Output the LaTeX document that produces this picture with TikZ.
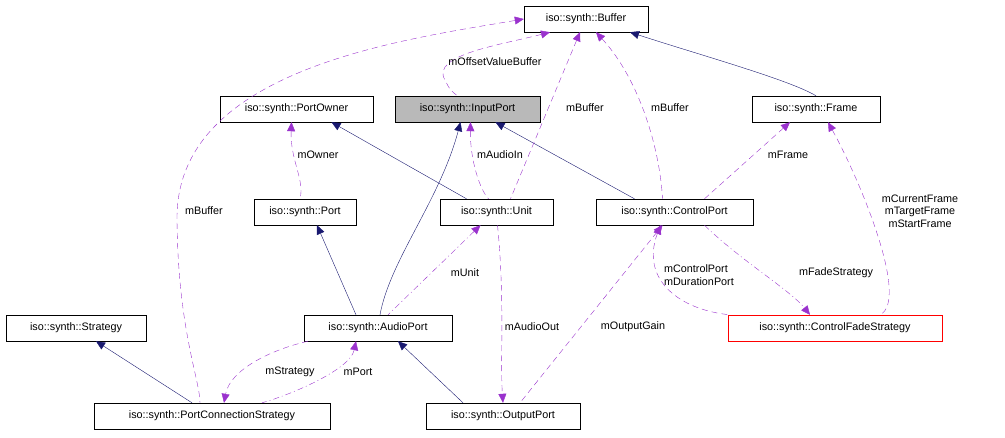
\documentclass[tikz,border=0pt]{standalone}
\usepackage{fontspec}
\setmainfont{Liberation Sans}
\usetikzlibrary{arrows.meta}
\definecolor{inh}{HTML}{191970}
\definecolor{use}{HTML}{9A32CD}
\begin{document}
\begin{tikzpicture}[x=1pt,y=-1pt,font=\fontsize{10.8}{12.5}\selectfont,
 box/.style={draw=black,fill=white,inner sep=0pt,minimum height=26pt,anchor=center},
 inh/.style={draw=inh,{Triangle[length=9pt,width=8pt,fill=inh]}-},
 use/.style={draw=use,dashed,dash pattern=on 6pt off 4pt,{Triangle[length=9pt,width=8pt,fill=use]}-},
 lab/.style={inner sep=1pt,fill=none}]
\useasboundingbox (0,0) rectangle (1005,437);
\node[box,minimum width=124pt] (buf) at (586,19) {iso::synth::Buffer};
\node[box,minimum width=145pt,fill=gray!55] (inp) at (467.5,109) {iso::synth::InputPort};
\node[box,minimum width=153pt] (own) at (296.5,109) {iso::synth::PortOwner};
\node[box,minimum width=128pt] (frm) at (816,109) {iso::synth::Frame};
\node[box,minimum width=102pt] (port) at (305,212) {iso::synth::Port};
\node[box,minimum width=113pt] (unit) at (496.5,212) {iso::synth::Unit};
\node[box,minimum width=157pt] (cp) at (674.5,212) {iso::synth::ControlPort};
\node[box,minimum width=140pt] (str) at (76,328) {iso::synth::Strategy};
\node[box,minimum width=148pt] (ap) at (378,328) {iso::synth::AudioPort};
\node[box,minimum width=214pt,draw=red] (cfs) at (835,328) {iso::synth::ControlFadeStrategy};
\node[box,minimum width=236pt] (pcs) at (212,416) {iso::synth::PortConnectionStrategy};
\node[box,minimum width=154pt] (op) at (503,416) {iso::synth::OutputPort};
% inheritance
\draw[inh] ([xshift=44pt]buf.south) .. controls (700,55) and (790,80) .. (frm.north);
\draw[inh] ([xshift=35pt]own.south) -- ([xshift=-30pt]unit.north);
\draw[inh] ([xshift=28pt]inp.south) -- ([xshift=-40pt]cp.north);
\draw[inh] ([xshift=-7pt]inp.south) .. controls (440,200) and (390,260) .. ([xshift=2pt]ap.north);
\draw[inh] ([xshift=12pt]port.south) -- ([xshift=-22pt]ap.north);
\draw[inh] ([xshift=20pt]str.south) -- ([xshift=-20pt]pcs.north);
\draw[inh] ([xshift=20pt]ap.south) -- ([xshift=-40pt]op.north);
% usage
\draw[use] ([xshift=-36pt]buf.south) .. controls (500,45) and (430,55) .. (445,80) .. controls (450,90) .. ([xshift=-10pt]inp.north);
\node[lab] at (495,62) {mOffsetValueBuffer};
\draw[use] (buf.west) .. controls (400,40) and (175,70) .. (177,220) .. controls (178,330) and (200,380) .. ([xshift=-12pt]pcs.north);
\node[lab] at (204,211) {mBuffer};
\draw[use] ([xshift=-5pt]own.south) .. controls (290,160) and (305,180) .. ([xshift=-5pt]port.north);
\node[lab] at (318,155) {mOwner};
\draw[use] ([xshift=-6pt]buf.south) -- ([xshift=14pt]unit.north);
\node[lab] at (585,108) {mBuffer};
\draw[use] ([xshift=10pt]buf.south) .. controls (640,80) and (660,150) .. ([xshift=-12pt]cp.north);
\node[lab] at (670,108) {mBuffer};
\draw[use] ([xshift=3pt]inp.south) .. controls (470,160) and (480,190) .. ([xshift=-8pt]unit.north);
\node[lab] at (500,155) {mAudioIn};
\draw[use] ([xshift=-26pt]frm.south) -- ([xshift=30pt]cp.north);
\node[lab] at (788,155) {mFrame};
\draw[use] ([xshift=12pt]frm.south) .. controls (860,180) and (910,300) .. ([xshift=45pt]cfs.north);
\node[lab,align=center] at (920,211) {mCurrentFrame\\mTargetFrame\\mStartFrame};
\draw[use] ([xshift=-14pt]cp.south) .. controls (640,280) and (680,310) .. ([xshift=-105pt]cfs.north);
\node[lab,align=left] at (699,275) {mControlPort\\mDurationPort};
\draw[use,dash pattern=on 6pt off 3pt on 1pt off 3pt,-{Triangle[length=9pt,width=8pt,fill=use]}] ([xshift=30pt]cp.south) .. controls (740,260) and (790,290) .. ([xshift=-25pt]cfs.north);
\node[lab] at (836,273) {mFadeStrategy};
\draw[use,dash pattern=on 6pt off 3pt on 1pt off 3pt] ([xshift=-16pt]unit.south) -- ([xshift=10pt]ap.north);
\node[lab] at (465,273) {mUnit};
\draw[use,-{Triangle[length=9pt,width=8pt,fill=use]}] ([xshift=1pt]unit.south) .. controls (505,300) and (500,360) .. (op.north);
\node[lab] at (532,327) {mAudioOut};
\draw[use] ([xshift=-12pt]cp.south) -- ([xshift=17pt]op.north);
\node[lab] at (633,327) {mOutputGain};
\draw[use,-{Triangle[length=9pt,width=8pt,fill=use]}] ([xshift=-70pt]ap.south) .. controls (270,350) and (230,370) .. ([xshift=12pt]pcs.north);
\node[lab] at (290,372) {mStrategy};
\draw[use,dash pattern=on 6pt off 3pt on 1pt off 3pt] ([xshift=-22pt]ap.south) .. controls (350,370) and (290,395) .. ([xshift=50pt]pcs.north);
\node[lab] at (358,372) {mPort};
\end{tikzpicture}
\end{document}
